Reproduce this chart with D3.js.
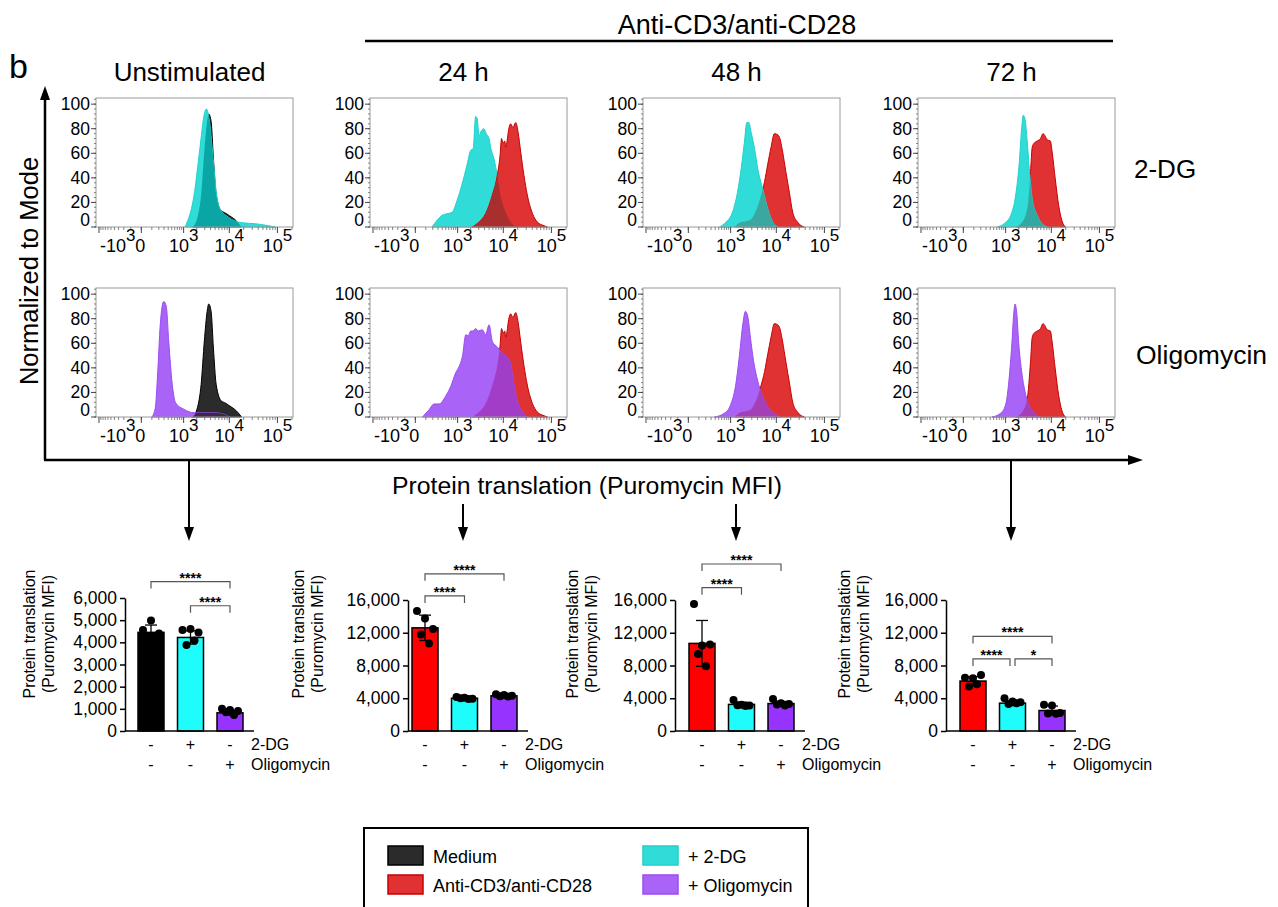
<!DOCTYPE html>
<html><head><meta charset="utf-8">
<script src="https://cdn.jsdelivr.net/npm/d3@7"></script>
<style>
body{margin:0;background:#fff;}
svg text{font-family:"Liberation Sans", Arial, sans-serif;fill:#000;}
</style></head><body>
<svg id="fig" width="1278" height="907"></svg>
<script>
// histogram curves: [Puromycin MFI, % of mode]
var medium = [[1610,0],[2070,7.6],[2500,26.5],[2940,62],[3380,86],[3650,92],[4110,86],[4610,56],[5270,26.6],[6780,13],[7960,11.7],[10210,9],[14120,4.9],[18000,0]];
var dgUnstim = [[1080,0],[1780,28],[2300,61],[2980,93],[3245,96],[3830,85],[4530,56],[5400,26],[6300,15],[9450,8],[18200,3.5],[33900,2.7],[66500,1],[90000,0]];
var oligoUnstim = [[101,0],[146,7.6],[181,35],[225,75],[294,94],[352,90],[413,62],[517,26.6],[632,11.7],[1024,6.2],[1745,3.5],[2940,3.5],[4840,3.5],[7960,2],[10210,0]];
var stim24 = [[2160,0],[3026,4],[4230,11],[5870,26],[7460,42],[8530,58],[9190,72],[9840,68],[10720,70],[11240,65],[13200,81],[14250,84],[15820,81],[18200,85],[20400,77],[23050,61],[26950,42],[31650,26],[40500,11],[51200,4],[70600,1],[82700,0]];
var dg24 = [[188,0],[278,5.4],[396,9.5],[545,10.8],[734,12],[972,21.7],[1275,35],[1660,51],[1972,62],[2270,64],[2560,90],[2780,88],[3026,74.5],[3440,78.6],[3870,80],[4350,76],[5000,72],[5380,65],[6350,55.5],[7460,42],[8770,25.7],[11240,12],[14250,4],[18200,0]];
var oligo24 = [[62,0],[143,6],[221,10.6],[325,10.6],[499,17],[679,25],[899,36],[1080,41],[1290,49],[1550,67],[1760,66],[1990,70],[2250,70],[2560,72],[2940,70],[3580,71],[4230,67],[5000,75],[5870,61.5],[7460,57],[9470,52],[12000,49],[14120,44],[16570,27.6],[19460,14],[24640,4.6],[31510,0]];
var stim48 = [[1240,0],[1610,3.5],[2690,5.4],[3720,13.5],[4790,26],[5650,37],[6590,51],[7750,65],[9100,76],[10720,75],[11660,73],[13580,61],[15820,45],[18750,28],[22010,12],[27700,4],[38200,0]];
var dg48 = [[528,0],[779,4],[1030,9.5],[1350,23],[1745,47],[2070,69],[2340,85],[2590,85],[2910,77],[3440,64],[4060,47],[5170,31],[6590,15],[8440,4],[10720,0]];
var oligo48 = [[380,0],[700,3],[1000,10],[1300,25],[1600,50],[1900,75],[2180,86],[2450,82],[2800,65],[3300,45],[4000,30],[5000,18],[6500,9],[9000,3],[12000,0]];
var stim72 = [[1710,0],[2390,4],[3080,15],[3620,45],[3940,65],[4270,68],[5030,70],[5920,72],[6650,76],[7320,74.5],[8130,71],[9560,70],[10410,61],[12100,39],[14250,17.6],[16570,5.4],[19640,0]];
var dg72 = [[628,0],[920,2.7],[1320,9.5],[1710,26],[2030,50],[2320,80],[2510,91],[2740,88],[3080,69],[3440,45],[3940,23],[5030,9.5],[6400,2.7],[8130,0]];
var oligo72 = [[450,0],[750,3],[1000,10],[1200,30],[1400,60],[1550,85],[1650,92],[1800,85],[2000,60],[2300,38],[2700,22],[3300,10],[4200,4],[5500,0]];

var histXTicks = [-1000, 0, 1000, 10000, 100000];
var histYTicks = [0, 20, 40, 60, 80, 100];
var colTitles = ["Unstimulated", "24 h", "48 h", "72 h"];
var rowTitles = ["2-DG", "Oligomycin"];

// bar charts: means, SD, individual mice
var dgSigns = ["-", "+", "-"];
var oligoSigns = ["-", "-", "+"];
var meanUnstim = [4450, 4220, 820], sdUnstim = [330, 300, 110];
var ptsUnstim = [[4560, 4980, 4400, 4200, 4150], [4560, 4600, 4440, 3880, 4080], [1000, 950, 900, 850, 720]];
var mean24 = [12600, 4000, 4300], sd24 = [1550, 150, 180];
var pts24 = [[14650, 13750, 12450, 11800, 10700], [4150, 4050, 3950, 4000, 3900], [4500, 4400, 4300, 4250, 4200]];
var mean48 = [10700, 3250, 3350], sd48 = [2800, 280, 260];
var pts48 = [[15500, 10450, 10550, 9400, 7900], [3800, 3200, 3100, 3150, 3050], [3900, 3400, 3300, 3250, 3100]];
var mean72 = [6100, 3400, 2500], sd72 = [550, 300, 550];
var pts72 = [[6500, 6450, 6850, 5450, 5700], [4000, 3600, 3500, 3300, 3400], [3200, 3100, 2200, 2150, 2100]];
// [from bar, to bar, label, height in MFI]
var sigUnstim = [[0, 2, "****", 6740], [1, 2, "****", 5650]];
var sig24 = [[0, 2, "****", 19200], [0, 1, "****", 16500]];
var sig48 = [[0, 2, "****", 20400], [0, 1, "****", 17500]];
var sig72 = [[0, 2, "****", 11550], [0, 1, "****", 8800], [1, 2, "*", 8800]];

var legendNames = ["Medium", "Anti-CD3/anti-CD28", "+ 2-DG", "+ Oligomycin"];

var col = {
  black: {fill: "#2b2b2b", stroke: "#000"},
  red: {fill: "#e03232", stroke: "#c80000"},
  cyan: {fill: "#30dcd8", stroke: "#22d0cc"},
  purple: {fill: "#a964f7", stroke: "#9a4cf0"}
};

var svg = d3.select("#fig");
var font = "'Liberation Sans', Arial, sans-serif";

// ---------- flow histograms ----------
var colX = [96, 370, 643, 918];
var rowY = [98, 288];
var W = 197, H = 129;

var hx = d3.scaleSymlog().constant(154).domain([-1177, 210130]).range([0, W]);
var hy = d3.scaleLinear().domain([0, 105]).range([H, 0]);

var panels = [
  [0, 0, medium, col.black, dgUnstim, col.cyan, "#0aa5a5"],
  [1, 0, dg24, col.cyan, stim24, col.red, "#a92f2f"],
  [2, 0, stim48, col.red, dg48, col.cyan, "#3aa7a1"],
  [3, 0, stim72, col.red, dg72, col.cyan, "#33a7a2"],
  [0, 1, medium, col.black, oligoUnstim, col.purple, "#3a2a48"],
  [1, 1, stim24, col.red, oligo24, col.purple, "#a23dc8"],
  [2, 1, stim48, col.red, oligo48, col.purple, "#a53fb8"],
  [3, 1, stim72, col.red, oligo72, col.purple, "#a53fb8"]
];

var area = d3.area()
  .x(function(d) { return hx(d[0]); })
  .y0(hy(0))
  .y1(function(d) { return hy(d[1]); })
  .curve(d3.curveMonotoneX);

panels.forEach(function(p, i) {
  var g = svg.append("g").attr("transform", "translate(" + colX[p[0]] + "," + rowY[p[1]] + ")");
  g.append("clipPath").attr("id", "clipback" + i)
    .append("path").attr("d", area(p[2]));
  g.append("path").attr("d", area(p[2])).attr("fill", p[3].fill).attr("stroke", p[3].stroke).attr("stroke-width", 1);
  g.append("path").attr("d", area(p[4])).attr("fill", p[5].fill).attr("stroke", p[5].stroke).attr("stroke-width", 1);
  g.append("path").attr("d", area(p[4])).attr("fill", p[6]).attr("clip-path", "url(#clipback" + i + ")");

  g.append("rect").attr("width", W).attr("height", H)
    .attr("fill", "none").attr("stroke", "#9a9a9a").attr("stroke-width", 1);

  // y ticks
  var minorY = d3.range(0, 105, 4);
  g.selectAll(".ym").data(minorY).enter().append("line")
    .attr("x1", -2).attr("x2", 0).attr("y1", hy).attr("y2", hy)
    .attr("stroke", "#666").attr("stroke-width", 0.8);
  g.selectAll(".yM").data(histYTicks).enter().append("line")
    .attr("x1", -5).attr("x2", 0).attr("y1", hy).attr("y2", hy)
    .attr("stroke", "#444").attr("stroke-width", 1);
  g.selectAll(".yl").data(histYTicks).enter().append("text")
    .attr("x", -6).attr("y", function(d) { return hy(d) + (d === 0 ? -1 : 6); })
    .attr("text-anchor", "end").attr("font-size", 17.5)
    .text(function(d) { return d; });

  // x ticks
  var minorX = d3.range(-900, 1000, 100);
  [1000, 10000].forEach(function(dec) { for (var k = 2; k < 10; k++) minorX.push(k * dec); });
  minorX.push(200000);
  g.selectAll(".xm").data(minorX).enter().append("line")
    .attr("x1", hx).attr("x2", hx).attr("y1", H).attr("y2", H + 3)
    .attr("stroke", "#666").attr("stroke-width", 0.8);
  g.selectAll(".xM").data(histXTicks).enter().append("line")
    .attr("x1", hx).attr("x2", hx).attr("y1", H).attr("y2", H + 6)
    .attr("stroke", "#444").attr("stroke-width", 1);
  histXTicks.forEach(function(v) {
    var t = g.append("text").attr("y", H + 25).attr("font-size", 18);
    if (v === 0) {
      t.attr("x", hx(v) - 1).attr("text-anchor", "middle").text("0");
    } else {
      var e = Math.round(Math.log10(Math.abs(v)));
      t.attr("x", v < 0 ? hx(v) + 1 : hx(v)).attr("text-anchor", v < 0 ? "start" : "middle");
      t.append("tspan").text(v < 0 ? "-10" : "10");
      t.append("tspan").attr("dy", -11).attr("font-size", 17).text(e);
    }
  });
});

// column and row titles
colTitles.forEach(function(t, i) {
  svg.append("text").attr("x", colX[i] + W / 2 - 5).attr("y", 81)
    .attr("text-anchor", "middle").attr("font-size", 26).text(t);
});
svg.append("text").attr("x", 1134).attr("y", 178).attr("font-size", 26).text(rowTitles[0]);
svg.append("text").attr("x", 1136).attr("y", 364).attr("font-size", 26.5).text(rowTitles[1]);
svg.append("text").attr("x", 737).attr("y", 34).attr("text-anchor", "middle").attr("font-size", 27).text("Anti-CD3/anti-CD28");
svg.append("line").attr("x1", 365).attr("x2", 1113).attr("y1", 41).attr("y2", 41).attr("stroke", "#000").attr("stroke-width", 2.5);
svg.append("text").attr("x", 9).attr("y", 78).attr("font-size", 34).text("b");

// big axes with arrows
svg.append("line").attr("x1", 45).attr("x2", 45).attr("y1", 460).attr("y2", 96).attr("stroke", "#000").attr("stroke-width", 2.5);
svg.append("path").attr("d", "M45,86 L40,100 L50,100 Z").attr("fill", "#000");
svg.append("line").attr("x1", 44).attr("x2", 1132).attr("y1", 460).attr("y2", 460).attr("stroke", "#000").attr("stroke-width", 2.5);
svg.append("path").attr("d", "M1143,460 L1128,455 L1128,465 Z").attr("fill", "#000");
svg.append("text").attr("transform", "translate(38,271) rotate(-90)")
  .attr("text-anchor", "middle").attr("font-size", 25.5).text("Normalized to Mode");
svg.append("text").attr("x", 587).attr("y", 494).attr("text-anchor", "middle")
  .attr("font-size", 24.8).text("Protein translation (Puromycin MFI)");

// down arrows
[[0, 460], [1, 504], [2, 504], [3, 460]].forEach(function(a) {
  var x = colX[a[0]] + 93;
  svg.append("line").attr("x1", x).attr("x2", x).attr("y1", a[1]).attr("y2", 530).attr("stroke", "#000").attr("stroke-width", 2);
  svg.append("path").attr("d", "M" + x + ",541 L" + (x - 5) + ",527 L" + (x + 5) + ",527 Z").attr("fill", "#000");
});

// ---------- bar charts ----------
var barFill = {black: "#000", red: "#ff0000", cyan: "#1ffcfc", purple: "#9633ff"};
var barPanels = [
  {ax: 125, first: 151, top: 598, max: 6000, ticks: d3.range(0, 6001, 1000), means: meanUnstim, sds: sdUnstim, pts: ptsUnstim, sig: sigUnstim, fills: [barFill.black, barFill.cyan, barFill.purple], lab: 90},
  {ax: 408, first: 425, top: 600, max: 16000, ticks: d3.range(0, 16001, 4000), means: mean24, sds: sd24, pts: pts24, sig: sig24, fills: [barFill.red, barFill.cyan, barFill.purple], lab: 104},
  {ax: 675, first: 702, top: 600, max: 16000, ticks: d3.range(0, 16001, 4000), means: mean48, sds: sd48, pts: pts48, sig: sig48, fills: [barFill.red, barFill.cyan, barFill.purple], lab: 97},
  {ax: 946, first: 973, top: 600, max: 16000, ticks: d3.range(0, 16001, 4000), means: mean72, sds: sd72, pts: pts72, sig: sig72, fills: [barFill.red, barFill.cyan, barFill.purple], lab: 96}
];
var y0 = 731;
var bw = 26;
var jitter = [-8, 0, 8, -4, 4];

barPanels.forEach(function(b) {
  var g = svg.append("g");
  var x = d3.scalePoint().domain([0, 1, 2]).range([b.first, b.first + 79]);
  var y = d3.scaleLinear().domain([0, b.max]).range([y0, b.top]);

  g.selectAll(".bar").data(b.means).enter().append("rect")
    .attr("x", function(d, i) { return x(i) - bw / 2; })
    .attr("y", function(d) { return y(d); })
    .attr("width", bw).attr("height", function(d) { return y0 - y(d); })
    .attr("fill", function(d, i) { return b.fills[i]; })
    .attr("stroke", "#000").attr("stroke-width", 1.5);

  b.means.forEach(function(m, i) {
    var s = b.sds[i], cx = x(i);
    g.append("line").attr("x1", cx).attr("x2", cx).attr("y1", y(m - s)).attr("y2", y(m + s)).attr("stroke", "#000").attr("stroke-width", 1.3);
    [m - s, m + s].forEach(function(v) {
      g.append("line").attr("x1", cx - 6).attr("x2", cx + 6).attr("y1", y(v)).attr("y2", y(v)).attr("stroke", "#000").attr("stroke-width", 1.3);
    });
    g.selectAll(null).data(b.pts[i]).enter().append("circle")
      .attr("cx", function(d, k) { return cx + jitter[k]; })
      .attr("cy", function(d) { return y(d); })
      .attr("r", 4).attr("fill", "#000");
  });

  var yAxis = g.append("g").attr("transform", "translate(" + b.ax + ",0)")
    .call(d3.axisLeft(y).tickValues(b.ticks).tickSize(5).tickSizeOuter(0).tickFormat(d3.format(",")));
  yAxis.select(".domain").attr("stroke-width", 1.5);
  yAxis.selectAll(".tick line").attr("stroke-width", 1.5);
  yAxis.selectAll("text").attr("font-size", 17.5).attr("font-family", font).attr("fill", "#000").attr("x", -8);

  g.append("line").attr("x1", b.ax).attr("x2", x(2) + 24).attr("y1", y0).attr("y2", y0).attr("stroke", "#000").attr("stroke-width", 1.5);

  g.append("text").attr("transform", "translate(" + (b.ax - b.lab) + ",634) rotate(-90)")
    .attr("text-anchor", "middle").attr("font-size", 16).text("Protein translation");
  g.append("text").attr("transform", "translate(" + (b.ax - b.lab + 19) + ",634) rotate(-90)")
    .attr("text-anchor", "middle").attr("font-size", 16).text("(Puromycin MFI)");

  // +/- rows
  [dgSigns, oligoSigns].forEach(function(row, r) {
    row.forEach(function(s, i) {
      g.append("text").attr("x", x(i)).attr("y", 750 + r * 20).attr("text-anchor", "middle").attr("font-size", 16).text(s);
    });
  });
  g.append("text").attr("x", x(2) + 21).attr("y", 750).attr("font-size", 16).text("2-DG");
  g.append("text").attr("x", x(2) + 21).attr("y", 770).attr("font-size", 16).text("Oligomycin");

  // significance brackets
  b.sig.forEach(function(s) {
    var x1 = x(s[0]), x2 = x(s[1]), yy = y(s[3]);
    b.sig.forEach(function(o) {
      if (o !== s && o[3] === s[3]) {
        if (o[1] === s[0]) x1 += 2.5;
        if (o[0] === s[1]) x2 -= 2.5;
      }
    });
    g.append("path").attr("d", "M" + x1 + "," + (yy + 7) + "V" + yy + "H" + x2 + "V" + (yy + 7))
      .attr("fill", "none").attr("stroke", "#555").attr("stroke-width", 1.2);
    g.append("text").attr("x", (x1 + x2) / 2).attr("y", yy + 1).attr("text-anchor", "middle")
      .attr("font-size", 14).attr("font-weight", "bold").text(s[2]);
  });
});

// ---------- legend ----------
var lg = svg.append("g");
lg.append("rect").attr("x", 364).attr("y", 828).attr("width", 444).attr("height", 90)
  .attr("fill", "#fff").attr("stroke", "#000").attr("stroke-width", 2);
var legendCols = [col.black, col.red, col.cyan, col.purple];
legendNames.forEach(function(n, i) {
  var lx = i < 2 ? 388 : 643, ly = i % 2 === 0 ? 846 : 875;
  lg.append("rect").attr("x", lx).attr("y", ly).attr("width", 35).attr("height", 19)
    .attr("fill", legendCols[i].fill).attr("stroke", legendCols[i].stroke).attr("stroke-width", 1.5);
  lg.append("text").attr("x", lx + 45).attr("y", ly + 17).attr("font-size", 18).text(n);
});
</script></body></html>
